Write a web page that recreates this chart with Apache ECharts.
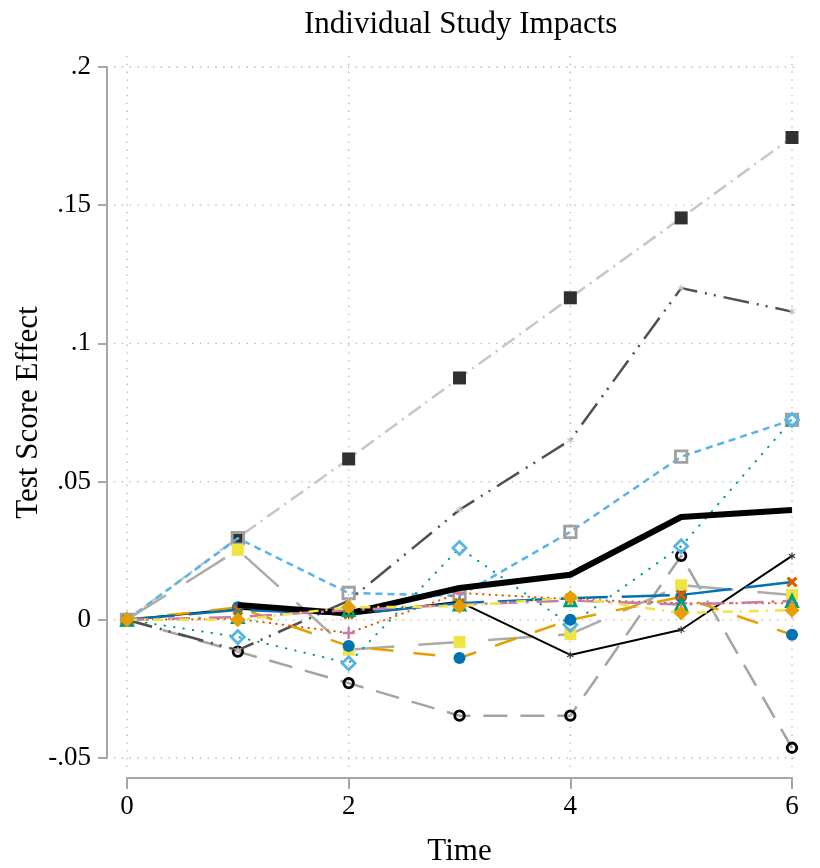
<!DOCTYPE html>
<html>
<head>
<meta charset="utf-8">
<title>Individual Study Impacts</title>
<script src="https://cdn.jsdelivr.net/npm/echarts@6/dist/echarts.min.js"></script>
<style>
  html, body { margin: 0; padding: 0; background: #ffffff; }
  #chart { width: 820px; height: 868px; }
</style>
</head>
<body>
<div id="chart"></div>
<script>
// Time periods and axis ticks
const times = [0, 1, 2, 3, 4, 5, 6];
const xTicks = [0, 2, 4, 6];
const xTickLabels = ['0', '2', '4', '6'];
const yTicks = [-0.05, 0, 0.05, 0.1, 0.15, 0.2];
const yTickLabels = ['-.05', '0', '.05', '.1', '.15', '.2'];

// Average impact across studies (starts in period 1)
const averageImpact = [null, 0.0054, 0.0023, 0.0115, 0.0163, 0.0372, 0.0397];

// Individual study impacts by period
const studyA = [0, 0.0297, 0.0582, 0.0875, 0.1165, 0.1454, 0.1745];
const studyB = [0, 0.0295, 0.0097, 0.0087, 0.0318, 0.0590, 0.0723];
const studyC = [0, -0.0062, -0.0157, 0.0260, -0.0018, 0.0266, 0.0723];
const studyD = [0, -0.0115, -0.0229, -0.0347, -0.0347, 0.0231, -0.0463];
const studyE = [0, 0.0253, -0.0108, -0.0080, -0.0052, 0.0125, 0.0090];
const studyF = [0, 0.0045, -0.0095, -0.0138, 0.0000, 0.0083, -0.0054];
const studyG = [0, 0.0036, 0.0020, 0.0060, 0.0078, 0.0090, 0.0137];
const studyH = [0, 0.0040, 0.0017, 0.0065, -0.0127, -0.0036, 0.0231];
const studyI = [0, -0.0110, 0.0069, 0.0398, 0.0650, 0.1200, 0.1115];
const studyJ = [0, 0.0010, 0.0035, 0.0055, 0.0070, 0.0055, 0.0068];
const studyK = [0, 0.0000, 0.0045, 0.0049, 0.0081, 0.0025, 0.0035];
const studyL = [0, 0.0003, -0.0048, 0.0097, 0.0075, 0.0060, 0.0060];

const SERIF = 'Liberation Serif, Times New Roman, serif';
const AXIS_GRAY = '#a6a6a6';
const CLEAR = 'rgba(0,0,0,0)';

// Marker shapes not built into ECharts
const CROSS_X = 'path://M2,0L5,3L8,0L10,2L7,5L10,8L8,10L5,7L2,10L0,8L3,5L0,2Z';
const CROSS_PLUS = 'path://M4,0H6V4H10V6H6V10H4V6H0V4H4Z';
const STAR = 'path://M4.2,0H5.8V3.6L8.9,1.8L9.7,3.2L6.6,5L9.7,6.8L8.9,8.2L5.8,6.4V10H4.2V6.4L1.1,8.2L0.3,6.8L3.4,5L0.3,3.2L1.1,1.8L4.2,3.6Z';

// One connected study line with its own marker style
function study(name, values, line, marker, z, showFirst) {
  const data = [];
  values.forEach((v, i) => {
    if (v === null) return;
    const item = { value: [times[i], v] };
    if (i === 0 && !showFirst) item.symbol = 'none';
    data.push(item);
  });
  return {
    name: name,
    type: 'line',
    z: z,
    data: data,
    showAllSymbol: true,
    symbol: marker.symbol,
    symbolSize: marker.size,
    itemStyle: {
      color: marker.fill,
      borderColor: marker.stroke || CLEAR,
      borderWidth: marker.strokeWidth || 0,
      opacity: 1
    },
    lineStyle: {
      color: line.color,
      width: line.width,
      type: line.dash || 'solid',
      cap: line.cap || 'butt',
      join: 'round'
    },
    emphasis: { disabled: true },
    silent: true
  };
}

const series = [
  study('Study D', studyD,
    { color: '#a3a3a3', width: 2.5, dash: [24, 13] },
    { symbol: 'circle', size: 9.5, fill: CLEAR, stroke: '#000000', strokeWidth: 2.8 }, 2, false),
  study('Study A', studyA,
    { color: '#c6c6c6', width: 2.5, dash: [15, 6, 2, 6] },
    { symbol: 'rect', size: 13, fill: '#303030' }, 3, true),
  study('Study B', studyB,
    { color: '#56B4E9', width: 2.5, dash: [7, 5] },
    { symbol: 'rect', size: 11.5, fill: CLEAR, stroke: '#a0a0a0', strokeWidth: 2.8 }, 4, true),
  study('Study I', studyI,
    { color: '#505050', width: 2.5, dash: [26, 8, 2, 7, 2, 8] },
    { symbol: STAR, size: 7, fill: '#c4c4c4' }, 5, false),
  study('Study E', studyE,
    { color: '#ababab', width: 2.5, dash: [46, 24] },
    { symbol: 'rect', size: 12, fill: '#F0E442' }, 6, false),
  study('Study C', studyC,
    { color: '#009E73', width: 2, dash: [0.5, 9], cap: 'round' },
    { symbol: 'diamond', size: 13, fill: CLEAR, stroke: '#56B4E9', strokeWidth: 2.8 }, 7, false),
  study('Study H', studyH,
    { color: '#000000', width: 2 },
    { symbol: STAR, size: 7, fill: '#333333' }, 8, false),
  study('Study L', studyL,
    { color: '#D55E00', width: 2, dash: [0.5, 6], cap: 'round' },
    { symbol: CROSS_PLUS, size: 12, fill: '#CC79A7' }, 9, false),
  study('Study F', studyF,
    { color: '#E69F00', width: 2.5, dash: [22, 20] },
    { symbol: 'circle', size: 12, fill: '#0072B2' }, 10, false),
  study('Study G', studyG,
    { color: '#0072B2', width: 2.5, dash: [48, 14] },
    { symbol: CROSS_X, size: 11, fill: '#D55E00' }, 11, false),
  study('Average', averageImpact,
    { color: '#000000', width: 6 },
    { symbol: 'none', size: 0, fill: '#000000' }, 12, false),
  study('Study J', studyJ,
    { color: '#CC79A7', width: 2.5, dash: [22, 8, 3, 8] },
    { symbol: 'triangle', size: 11, fill: CLEAR, stroke: '#009E73', strokeWidth: 2.8 }, 13, true),
  study('Study K', studyK,
    { color: '#F0E442', width: 2.5, dash: [10, 7, 2, 7] },
    { symbol: 'diamond', size: 15, fill: '#E69F00' }, 14, true)
];

function yLabel(v) {
  let best = 0;
  yTicks.forEach((t, i) => { if (Math.abs(t - v) < Math.abs(yTicks[best] - v)) best = i; });
  return yTickLabels[best];
}
function xLabel(v) {
  const i = xTicks.indexOf(Math.round(v));
  return i >= 0 ? xTickLabels[i] : '';
}

const option = {
  animation: false,
  backgroundColor: '#ffffff',
  title: {
    text: 'Individual Study Impacts',
    left: 299,
    top: 4,
    textStyle: { fontFamily: SERIF, fontSize: 31, fontWeight: 'normal', color: '#000000' }
  },
  grid: { left: 127, right: 28, top: 67, bottom: 110, containLabel: false, outerBoundsMode: 'none' },
  xAxis: {
    type: 'value',
    min: 0,
    max: 6,
    interval: 2,
    offset: 20,
    name: 'Time',
    nameLocation: 'middle',
    nameGap: 58,
    nameTextStyle: { fontFamily: SERIF, fontSize: 31, color: '#000000' },
    axisLine: { show: true, onZero: false, lineStyle: { color: AXIS_GRAY, width: 2 } },
    axisTick: { show: true, length: 11, lineStyle: { color: AXIS_GRAY, width: 2 } },
    axisLabel: { margin: 15, fontFamily: SERIF, fontSize: 27, color: '#000000', formatter: xLabel },
    splitLine: { show: false }
  },
  yAxis: {
    type: 'value',
    min: -0.05,
    max: 0.2,
    interval: 0.05,
    offset: 20,
    name: 'Test Score Effect',
    nameLocation: 'middle',
    nameGap: 63,
    nameMoveOverlap: false,
    nameTextStyle: { fontFamily: SERIF, fontSize: 31, color: '#000000' },
    axisLine: { show: true, onZero: false, lineStyle: { color: AXIS_GRAY, width: 2 } },
    axisTick: { show: true, length: 9, lineStyle: { color: AXIS_GRAY, width: 2 } },
    axisLabel: { margin: 16, fontFamily: SERIF, fontSize: 27, color: '#000000', formatter: yLabel },
    splitLine: { show: false }
  },
  series: series
};

const chart = echarts.init(document.getElementById('chart'), null, { renderer: 'canvas' });
chart.setOption(option);

// Dotted grid lines at the major ticks, running slightly past the data range
const gridStyle = { stroke: '#b2b2b2', lineWidth: 1.3, lineDash: [1.3, 6.5] };
const toPx = (x, y) => chart.convertToPixel({ gridIndex: 0 }, [x, y]);
const gridLines = [];
yTicks.forEach(v => {
  const a = toPx(times[0], v);
  const b = toPx(times[times.length - 1], v);
  gridLines.push({ type: 'line', z: -1, silent: true,
    shape: { x1: a[0] - 13, y1: a[1], x2: b[0] + 8, y2: b[1] }, style: gridStyle });
});
xTicks.forEach(v => {
  const a = toPx(v, yTicks[yTicks.length - 1]);
  const b = toPx(v, yTicks[0]);
  gridLines.push({ type: 'line', z: -1, silent: true,
    shape: { x1: a[0], y1: a[1] - 11, x2: b[0], y2: b[1] + 10 }, style: gridStyle });
});
chart.setOption({ graphic: { elements: gridLines } });
</script>
</body>
</html>
